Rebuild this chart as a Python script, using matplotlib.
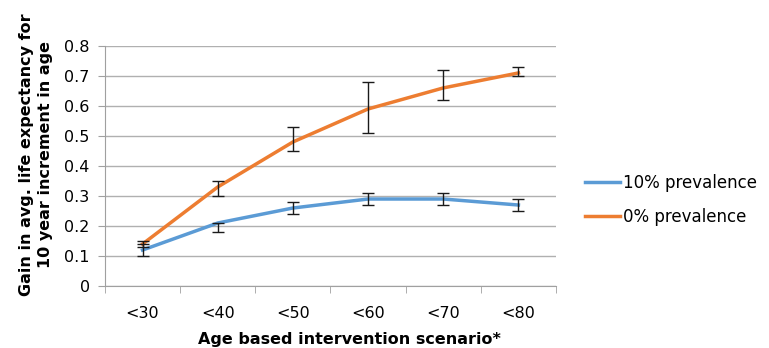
import matplotlib
matplotlib.use("Agg")
import matplotlib.pyplot as plt
import numpy as np

plt.rcParams['font.family'] = ['DejaVu Sans']

categories = ["<30", "<40", "<50", "<60", "<70", "<80"]
prev10 = [0.12, 0.21, 0.26, 0.29, 0.29, 0.27]
prev10_lo = [0.10, 0.18, 0.24, 0.27, 0.27, 0.25]
prev10_hi = [0.14, 0.21, 0.28, 0.31, 0.31, 0.29]
prev0 = [0.14, 0.33, 0.48, 0.59, 0.66, 0.71]
prev0_lo = [0.13, 0.30, 0.45, 0.51, 0.62, 0.70]
prev0_hi = [0.15, 0.35, 0.53, 0.68, 0.72, 0.73]
yticks = [0, 0.1, 0.2, 0.3, 0.4, 0.5, 0.6, 0.7, 0.8]

fig = plt.figure(figsize=(7.69, 3.48), dpi=100)
ax = fig.add_axes([0.1365, 0.178, 0.5865, 0.69])

x = np.arange(len(categories))
blue = "#5b9bd5"
orange = "#ed7d31"

for vals, lo, hi, col, lab in [(prev10, prev10_lo, prev10_hi, blue, "10% prevalence"),
                               (prev0, prev0_lo, prev0_hi, orange, "0% prevalence")]:
    ax.plot(x, vals, color=col, lw=2.5, label=lab, zorder=3)
    v = np.array(vals)
    yerr = np.vstack([v - np.array(lo), np.array(hi) - v])
    ax.errorbar(x, vals, yerr=yerr, fmt="none", ecolor="#1a1a1a", elinewidth=1,
                capsize=4, capthick=1, zorder=4)

ax.set_xlim(-0.5, len(categories) - 0.5)
ax.set_ylim(0, 0.8)
ax.set_yticks(yticks)
ax.set_yticklabels([f"{t:g}" for t in yticks], fontsize=11.5)
ax.yaxis.grid(True, color="#b0b0b0", lw=1)
ax.set_axisbelow(True)

ax.set_xticks(x)
ax.set_xticklabels(categories, fontsize=11.5)
ax.tick_params(axis="x", length=0, pad=14)
ax.set_xticks(np.arange(-0.5, len(categories)), minor=True)
ax.tick_params(axis="x", which="minor", length=5, color="#a0a0a0", direction="out")
ax.tick_params(axis="y", length=5, color="#a0a0a0", pad=6)

for s in ["top", "right"]:
    ax.spines[s].set_visible(False)
for s in ["left", "bottom"]:
    ax.spines[s].set_color("#a0a0a0")

ax.set_ylabel("Gain in avg. life expectancy for\n10 year increment in age",
              fontsize=11.5, fontweight="bold", linespacing=1.35)
ax.yaxis.set_label_coords(-0.115, 0.546)
ax.set_xlabel("Age based intervention scenario*", fontsize=11.5, fontweight="bold")
ax.xaxis.set_label_coords(0.542, -0.19)

ax.legend(loc="center left", bbox_to_anchor=(1.065, 0.36), frameon=False, fontsize=12,
          handlelength=2.1, handletextpad=0.15, labelspacing=0.95, borderpad=0,
          borderaxespad=0)

fig.savefig("out.png", dpi=100)
